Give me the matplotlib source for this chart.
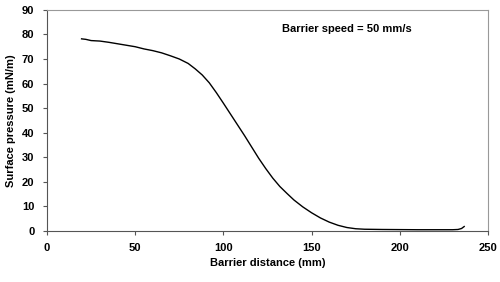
import matplotlib.pyplot as plt

# Barrier distance (mm) and surface pressure (mN/m)
distance = [19.6, 22, 25, 30, 35, 40, 45, 50, 55, 60, 65, 70, 75, 80, 84,
            88, 92, 96, 100, 104, 108, 112, 116, 120, 124, 128, 132, 136,
            140, 145, 150, 155, 160, 165, 170, 175, 180, 190, 200, 210, 220,
            230, 233, 235, 236.5]
pressure = [78.2, 78.0, 77.5, 77.3, 76.8, 76.2, 75.6, 75.0, 74.1, 73.4, 72.5,
            71.3, 70.0, 68.2, 66.0, 63.5, 60.3, 56.3, 52.0, 47.6, 43.2, 38.8,
            34.2, 29.6, 25.4, 21.5, 18.1, 15.3, 12.6, 9.8, 7.4, 5.3, 3.6,
            2.3, 1.4, 0.9, 0.7, 0.6, 0.55, 0.5, 0.5, 0.5, 0.6, 1.0, 1.8]

x_ticks = [0, 50, 100, 150, 200, 250]
y_ticks = [0, 10, 20, 30, 40, 50, 60, 70, 80, 90]

plt.rcParams["font.family"] = ["Liberation Sans", "DejaVu Sans"]
plt.rcParams["font.weight"] = "bold"

fig = plt.figure(figsize=(5, 2.82), dpi=100)
ax = fig.add_axes([0.094, 0.181, 0.882, 0.784])

ax.plot(distance, pressure, color="black", linewidth=1.0)

ax.set_xlim(0, 250)
ax.set_ylim(0, 90)
ax.set_xticks(x_ticks)
ax.set_yticks(y_ticks)
ax.tick_params(labelsize=8, length=3, width=0.8, color="#555555", pad=6)
for lab in ax.get_xticklabels() + ax.get_yticklabels():
    lab.set_fontweight("bold")

ax.spines["left"].set_color("#555555")
ax.spines["bottom"].set_color("#555555")
ax.spines["top"].set_color("#999999")
ax.spines["right"].set_color("#999999")

ax.set_xlabel("Barrier distance (mm)", fontsize=8, fontweight="bold", labelpad=3)
ax.set_ylabel("Surface pressure (mN/m)", fontsize=8, fontweight="bold", labelpad=4)

ax.text(133, 81, "Barrier speed = 50 mm/s", fontsize=8, fontweight="bold")

fig.savefig("out.png", dpi=100)
